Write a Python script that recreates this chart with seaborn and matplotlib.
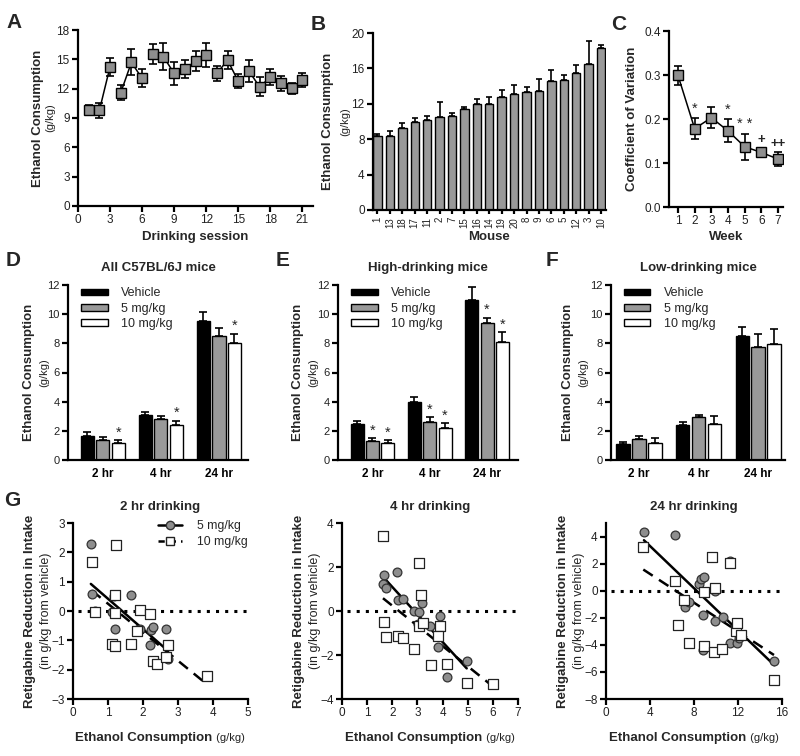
import numpy as np
import pandas as pd
import matplotlib
matplotlib.use("Agg")
import matplotlib.pyplot as plt
import seaborn as sns
from matplotlib.patches import Patch
from matplotlib.lines import Line2D
from matplotlib.transforms import offset_copy

# ---------------- data ----------------
sessions = list(range(1, 22))
session_group = [1, 1, 1, 2, 2, 2, 3, 3, 3, 4, 4, 4, 5, 5, 5, 6, 6, 6, 7, 7, 7]
session_mean = [9.84, 9.77, 14.24, 11.58, 14.69, 13.05, 15.54, 15.27, 13.56, 14.0, 14.82,
                15.44, 13.56, 14.92, 12.77, 13.8, 12.19, 13.15, 12.53, 12.02, 12.84]
session_sem = [0.45, 0.77, 0.92, 0.78, 1.33, 0.92, 1.02, 1.37, 1.2, 0.92, 1.06,
               1.2, 0.75, 0.92, 0.72, 1.09, 0.96, 0.82, 0.75, 0.58, 0.72]

mouse_ids = ['1', '13', '18', '17', '11', '2', '7', '15', '16', '14', '19', '20',
             '8', '9', '6', '5', '12', '3', '10']
mouse_mean = [8.38, 8.38, 9.25, 10.0, 10.19, 10.49, 10.57, 11.4, 11.96, 12.0, 12.72,
              13.13, 13.36, 13.5, 14.6, 14.64, 15.47, 16.49, 18.3]
mouse_sem = [0.2, 0.55, 0.55, 0.45, 0.38, 1.66, 0.37, 0.2, 0.6, 0.8, 0.87,
             0.95, 0.56, 1.32, 1.17, 0.64, 0.9, 2.57, 0.38]

weeks = [1, 2, 3, 4, 5, 6, 7]
cv_mean = [0.299, 0.178, 0.203, 0.173, 0.137, 0.124, 0.109]
cv_sem = [0.021, 0.024, 0.024, 0.026, 0.030, 0.008, 0.015]
cv_marks = ['', '*', '', '*', '* *', '+', '++']

timepoints = ['2 hr', '4 hr', '24 hr']
treatments = ['Vehicle', '5 mg/kg', '10 mg/kg']

all_vehicle = [1.65, 3.06, 9.55]
all_vehicle_sem = [0.27, 0.25, 0.6]
all_5mg = [1.37, 2.81, 8.5]
all_5mg_sem = [0.18, 0.2, 0.53]
all_10mg = [1.19, 2.38, 8.0]
all_10mg_sem = [0.18, 0.32, 0.64]
all_stars = [['', '', ''], ['', '', ''], ['*', '*', '*']]

high_vehicle = [2.47, 3.95, 10.95]
high_vehicle_sem = [0.23, 0.39, 0.94]
high_5mg = [1.28, 2.61, 9.39]
high_5mg_sem = [0.21, 0.32, 0.37]
high_10mg = [1.19, 2.22, 8.07]
high_10mg_sem = [0.18, 0.3, 0.68]
high_stars = [['', '', ''], ['*', '*', '*'], ['*', '*', '*']]

low_vehicle = [1.07, 2.4, 8.5]
low_vehicle_sem = [0.14, 0.23, 0.64]
low_5mg = [1.42, 2.97, 7.77]
low_5mg_sem = [0.25, 0.14, 0.85]
low_10mg = [1.14, 2.47, 7.93]
low_10mg_sem = [0.35, 0.55, 1.03]
low_stars = [['', '', ''], ['', '', ''], ['', '', '']]

# G: 2 hr
g2_x5 = [0.51, 0.54, 0.62, 1.18, 1.12, 1.20, 1.66, 1.90, 2.23, 2.28, 2.19, 2.39, 2.65, 2.72]
g2_y5 = [2.30, 0.59, -0.01, 0.50, -0.03, -0.60, 0.55, -0.60, -0.64, -0.56, -1.15, -1.78, -0.60, -1.64]
g2_x10 = [0.54, 0.62, 1.22, 1.20, 1.20, 1.12, 1.19, 1.66, 1.90, 1.82, 2.21, 2.28, 2.39, 2.65, 2.72, 3.84]
g2_y10 = [1.68, -0.03, 2.24, 0.56, -0.07, -1.12, -1.18, -1.12, 0.05, -0.67, -0.09, -1.72, -1.80, -1.58, -1.16, -2.23]
# G: 4 hr
g4_x5 = [1.68, 1.62, 1.75, 2.19, 2.23, 2.43, 2.88, 3.05, 3.18, 3.02, 3.16, 3.51, 3.91, 3.81, 4.19, 4.96]
g4_y5 = [1.62, 1.23, 1.03, 1.79, 0.52, 0.56, 0.0, -0.06, 0.36, -0.59, -0.59, -0.70, -0.21, -1.65, -3.02, -2.27]
g4_x10 = [1.63, 1.68, 1.75, 2.23, 2.43, 2.88, 3.05, 3.16, 3.05, 3.22, 3.53, 3.91, 3.81, 4.19, 4.96, 6.00]
g4_y10 = [3.39, -0.52, -1.20, -1.12, -1.24, -1.71, 2.18, 0.73, -0.67, -0.55, -2.45, -0.70, -1.15, -2.39, -3.27, -3.33]
# G: 24 hr
g24_x5 = [3.45, 6.23, 7.14, 7.56, 8.44, 8.65, 8.92, 8.83, 8.80, 9.95, 9.95, 10.62, 11.31, 11.25, 11.90, 12.10, 15.30]
g24_y5 = [4.37, 4.12, -1.21, -0.86, 0.47, 0.89, 0.99, -1.80, -4.35, 0.0, -2.25, -1.95, 2.20, -3.90, -3.90, -3.50, -5.20]
g24_x10 = [3.39, 6.23, 7.10, 6.56, 7.56, 8.92, 8.92, 9.68, 9.95, 9.86, 10.59, 11.31, 11.86, 11.95, 12.28, 15.27]
g24_y10 = [3.26, 0.69, -0.70, -2.53, -3.90, -0.10, -4.10, 2.47, 0.20, -4.50, -4.27, 2.07, -3.00, -2.37, -3.28, -6.59]

# ---------------- style ----------------
sns.set_style("ticks")
plt.rcParams['font.family'] = ['Liberation Sans', 'DejaVu Sans']

W, H = 800, 756
fig = plt.figure(figsize=(8, 7.56), dpi=100)
GRAY = '#999999'
MGRAY = '#8e8e8e'


def add_ax(l, t, r, b):
    return fig.add_axes([l / W, 1 - b / H, (r - l) / W, (b - t) / H])


def style(ax, labelsize=8.5):
    sns.despine(ax=ax)
    for s in ['left', 'bottom']:
        ax.spines[s].set_linewidth(1.6)
        ax.spines[s].set_color('black')
    ax.tick_params(width=1.6, length=4, labelsize=labelsize, color='black',
                   labelcolor='#222222', pad=2)
    ax.set_xlabel('')
    ax.set_ylabel('')


def ylab(ax, bold, sub, dxb, dxs, bsize=9.5, ssize=8):
    t = offset_copy(ax.transAxes, fig=fig, x=-dxb, y=0, units='dots')
    ax.text(0, 0.5, bold, transform=t, rotation=90, ha='center', va='center',
            fontsize=bsize, fontweight='bold')
    if sub:
        t2 = offset_copy(ax.transAxes, fig=fig, x=-dxs, y=0, units='dots')
        ax.text(0, 0.5, sub, transform=t2, rotation=90, ha='center', va='center',
                fontsize=ssize, color='#222222')


def ftext(x, y, s, **kw):
    return fig.text(x / W, 1 - y / H, s, **kw)


def letter(x, y, s):
    ftext(x, y, s, fontsize=15, fontweight='bold', ha='center', va='center')


# ---------------- A ----------------
axA = add_ax(78, 30, 313, 206)
dfA = pd.DataFrame({'session': sessions, 'mean': session_mean, 'grp': session_group})
axA.errorbar(sessions, session_mean, yerr=session_sem, fmt='none', ecolor='black',
             elinewidth=1.2, capsize=3, capthick=1.2, zorder=2)
sns.lineplot(data=dfA, x='session', y='mean', units='grp', estimator=None, color='black',
             lw=1.1, marker='s', markersize=6.5, markerfacecolor=MGRAY,
             markeredgecolor='black', markeredgewidth=1, ax=axA, zorder=3)
axA.set_xlim(0, 22)
axA.set_ylim(0, 18)
axA.set_xticks(range(0, 22, 3))
axA.set_yticks(range(0, 19, 3))
style(axA)
ylab(axA, 'Ethanol Consumption', '(g/kg)', 40, 28)
ftext(195, 237, 'Drinking session', fontsize=9.5, fontweight='bold', ha='center', va='center')
letter(14, 23, 'A')

# ---------------- B ----------------
axB = add_ax(373, 33, 606, 210)
sns.barplot(x=mouse_ids, y=mouse_mean, order=mouse_ids, color=GRAY, saturation=1,
            edgecolor='black', linewidth=1, width=0.68, errorbar=None, ax=axB)
axB.errorbar(range(len(mouse_ids)), mouse_mean,
             yerr=[np.zeros(len(mouse_sem)), mouse_sem], fmt='none', ecolor='black',
             elinewidth=1.2, capsize=2.5, capthick=1.2, zorder=3)
axB.set_xlim(-0.36, 18.4)
axB.set_ylim(0, 20)
axB.set_yticks(range(0, 21, 4))
style(axB)
axB.tick_params(axis='x', labelsize=7, rotation=90, length=3)
ylab(axB, 'Ethanol Consumption', '(g/kg)', 45, 28)
ftext(489, 237, 'Mouse', fontsize=9.5, fontweight='bold', ha='center', va='center')
letter(318, 24, 'B')

# ---------------- C ----------------
axC = add_ax(669, 31, 783, 207)
dfC = pd.DataFrame({'week': weeks, 'cv': cv_mean})
axC.errorbar(weeks, cv_mean, yerr=cv_sem, fmt='none', ecolor='black',
             elinewidth=1.2, capsize=3, capthick=1.2, zorder=2)
sns.lineplot(data=dfC, x='week', y='cv', color='black', lw=1.1, marker='s',
             markersize=6.5, markerfacecolor=MGRAY, markeredgecolor='black',
             markeredgewidth=1, ax=axC, zorder=3)
for w, m, s, mk in zip(weeks, cv_mean, cv_sem, cv_marks):
    if mk:
        fs = 10.5 if '*' in mk else 9.5
        axC.text(w, m + s + 0.006, mk, ha='center', va='bottom', fontsize=fs,
                 fontweight='bold' if '+' in mk else 'normal')
axC.set_xlim(0.46, 7.3)
axC.set_ylim(0, 0.4)
axC.set_xticks(weeks)
axC.set_yticks([0.0, 0.1, 0.2, 0.3, 0.4])
axC.set_yticklabels(['0.0', '0.1', '0.2', '0.3', '0.4'])
style(axC)
ylab(axC, 'Coefficient of Variation', None, 37, 0)
ftext(726, 237, 'Week', fontsize=9.5, fontweight='bold', ha='center', va='center')
letter(619, 24, 'C')


# ---------------- D, E, F ----------------
def bar_panel(ax, veh, veh_e, m5, m5_e, m10, m10_e, stars, title, tx, xlim, dxb, dxs):
    df = pd.DataFrame({
        'time': timepoints * 3,
        'treat': [t for t in treatments for _ in timepoints],
        'val': veh + m5 + m10,
    })
    sns.barplot(data=df, x='time', y='val', hue='treat', order=timepoints,
                hue_order=treatments, palette=['black', GRAY, 'white'], saturation=1,
                edgecolor='black', linewidth=1, width=0.8, gap=0.15, errorbar=None,
                legend=False, ax=ax)
    errs = [veh_e, m5_e, m10_e]
    conts = list(ax.containers)
    for i, cont in enumerate(conts):
        xs = [b.get_x() + b.get_width() / 2 for b in cont]
        hs = [b.get_height() for b in cont]
        ax.errorbar(xs, hs, yerr=[np.zeros(len(hs)), errs[i]], fmt='none', ecolor='black',
                    elinewidth=1.2, capsize=2.8, capthick=1.2, zorder=3)
        for x, h, e, st in zip(xs, hs, errs[i], stars[i]):
            if st:
                ax.text(x, h + e + 0.05, st, ha='center', va='bottom', fontsize=10.5)
    ax.set_ylim(0, 12)
    ax.set_yticks(range(0, 13, 2))
    ax.set_xlim(*xlim)
    style(ax, labelsize=8)
    ax.tick_params(axis='x', length=0, pad=6)
    for lab in ax.get_xticklabels():
        lab.set_fontweight('bold')
        lab.set_fontsize(8.5)
        lab.set_color('black')
    handles = [Patch(facecolor=c, edgecolor='black', lw=1) for c in ['black', GRAY, 'white']]
    ax.legend(handles, treatments, loc='upper left', bbox_to_anchor=(0.06, 1.0),
              frameon=False, fontsize=9, handlelength=2.1, handleheight=0.45,
              handletextpad=1.1, labelspacing=0.25, borderaxespad=0, borderpad=0.2)
    ylab(ax, 'Ethanol Consumption', '(g/kg)', dxb, dxs)
    ftext(tx, 268, title, fontsize=9.5, fontweight='bold', ha='center', va='center')


axD = add_ax(68, 285, 248, 460)
bar_panel(axD, all_vehicle, all_vehicle_sem, all_5mg, all_5mg_sem, all_10mg, all_10mg_sem,
          all_stars, 'All C57BL/6J mice', 158, (-0.6, 2.5), 39, 24)
letter(13, 260, 'D')

axE = add_ax(338, 285, 518, 460)
bar_panel(axE, high_vehicle, high_vehicle_sem, high_5mg, high_5mg_sem, high_10mg,
          high_10mg_sem, high_stars, 'High-drinking mice', 428, (-0.6, 2.54), 40, 25)
letter(283, 260, 'E')

axF = add_ax(611, 285, 785, 460)
bar_panel(axF, low_vehicle, low_vehicle_sem, low_5mg, low_5mg_sem, low_10mg,
          low_10mg_sem, low_stars, 'Low-drinking mice', 698, (-0.47, 2.45), 43, 28)
letter(552, 260, 'F')


# ---------------- G ----------------
renderer = fig.canvas.get_renderer()


def mixed_xlabel(cx, y, bold, normal):
    t1 = ftext(0, y, bold, fontsize=9.5, fontweight='bold', ha='left', va='baseline')
    t2 = ftext(0, y, normal, fontsize=8, ha='left', va='baseline', color='#222222')
    w1 = t1.get_window_extent(renderer).width
    w2 = t2.get_window_extent(renderer).width
    x1 = cx - (w1 + w2) / 2
    t1.set_position((x1 / W, 1 - y / H))
    t2.set_position(((x1 + w1) / W, 1 - y / H))


def scatter_panel(ax, x5, y5, x10, y10, xlim, ylim, xticks, yticks, title, cx):
    ax.axhline(0, xmin=0.03, xmax=1.0, color='black', lw=2.2, ls=(0, (1, 2.0)), zorder=1)
    sns.regplot(x=np.array(x5), y=np.array(y5), scatter=False, ci=None, color='black',
                line_kws={'lw': 1.8, 'ls': '-', 'zorder': 2}, ax=ax)
    sns.regplot(x=np.array(x10), y=np.array(y10), scatter=False, ci=None, color='black',
                line_kws={'lw': 1.8, 'ls': (0, (4.5, 3)), 'zorder': 2}, ax=ax)
    sns.scatterplot(x=x5, y=y5, marker='o', s=40, color=MGRAY, edgecolor='#333333',
                    linewidth=0.9, ax=ax, zorder=3)
    sns.scatterplot(x=x10, y=y10, marker='s', s=42, color='white', edgecolor='#222222',
                    linewidth=0.9, ax=ax, zorder=4)
    ax.set_xlim(*xlim)
    ax.set_ylim(*ylim)
    ax.set_xticks(xticks)
    ax.set_yticks(yticks)
    style(ax, labelsize=8.5)
    ylab(ax, 'Retigabine Reduction in Intake', '(in g/kg from vehicle)', 43, 27,
         ssize=9)
    ftext(cx, 507, title, fontsize=9.5, fontweight='bold', ha='center', va='center')
    mixed_xlabel(cx, 741, 'Ethanol Consumption', ' (g/kg)')


axG1 = add_ax(73, 523, 248, 699)
scatter_panel(axG1, g2_x5, g2_y5, g2_x10, g2_y10, (0, 5), (-3, 3), range(0, 6),
              range(-3, 4), '2 hr drinking', 160)
lh = [Line2D([], [], color='black', lw=1.8, marker='o', markersize=6,
             markerfacecolor=MGRAY, markeredgecolor='#333333'),
      Line2D([], [], color='black', lw=1.8, ls=(0, (2.5, 2)), marker='s', markersize=6.3,
             markerfacecolor='white', markeredgecolor='#222222')]
axG1.legend(lh, ['5 mg/kg', '10 mg/kg'], loc='upper left', bbox_to_anchor=(0.47, 1.03),
            frameon=False, fontsize=8.8, handlelength=2.0, handletextpad=1.2,
            labelspacing=0.35, borderaxespad=0, borderpad=0.2)
letter(12, 500, 'G')

axG2 = add_ax(342, 523, 518, 699)
scatter_panel(axG2, g4_x5, g4_y5, g4_x10, g4_y10, (0, 7), (-4, 4), range(0, 8),
              range(-4, 5, 2), '4 hr drinking', 430)

axG3 = add_ax(606, 523, 782, 699)
scatter_panel(axG3, g24_x5, g24_y5, g24_x10, g24_y10, (0, 16), (-8, 5), range(0, 17, 4),
              range(-8, 5, 2), '24 hr drinking', 694)

fig.savefig('out.png', dpi=100)
